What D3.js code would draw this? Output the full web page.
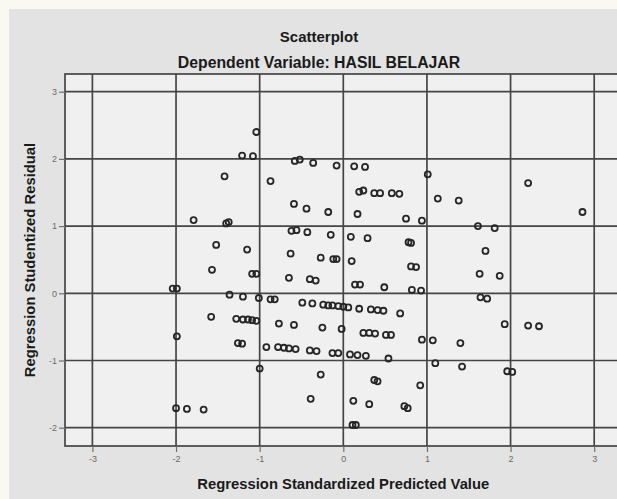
<!DOCTYPE html>
<html lang="id">
<head>
    <meta charset="UTF-8"/>
    <title>Scatterplot</title>
    <script src="https://cdnjs.cloudflare.com/ajax/libs/d3/7.8.5/d3.min.js"></script>
    <style>
        html, body { margin: 0; padding: 0; background: #f9f9f1; }
        svg { display: block; font-family: "Liberation Sans", Arial, sans-serif; }
        .title { font-weight: bold; font-size: 15px; fill: #1a1a1a; }
        .subtitle { font-weight: bold; font-size: 15.8px; fill: #1a1a1a; }
        .axis-title { font-weight: bold; font-size: 14.8px; fill: #1a1a1a; }
        .tick-label { font-size: 9px; fill: #6a6a6a; }
    </style>
</head>
<body>
<div id="chart"></div>

<script>
    // Data
    const predicted = [
        -1.04, -1.21, -1.08, -1.42, -0.87, -0.58, -0.52, -0.36, -0.08, 0.13,
        0.26, 0.19, 0.24, 0.37, 0.44, 0.58, 0.67, 1.01, 1.13, 2.21,
        1.38, -0.59, -0.44, -0.18, 0.17, 0.75, 0.94, 2.86, 1.61, 1.81,
        -1.79, -1.40, -1.37, -1.52, -1.15, -0.62, -0.56, -0.43, -0.15, 0.09,
        0.29, 0.78, 0.81, 1.70, -1.57, -0.63, -0.27, -0.12, -0.08, 0.10,
        0.81, 0.87, 1.63, 1.87, -1.09, -1.04, -0.65, -0.40, -0.33, 0.14,
        0.20, 0.49, 0.82, 0.93, -2.04, -1.99, -1.36, -1.20, -1.01, -0.87,
        -0.82, -0.49, -0.37, -0.24, -0.18, -0.13, -0.06, 0.00, 0.06, 0.19,
        0.33, 0.41, 0.48, 0.68, 1.64, 1.72, -1.58, -1.28, -1.20, -1.14,
        -1.09, -1.04, -0.77, -0.59, -0.25, -0.02, 1.93, 2.21, 2.34, 0.24,
        0.31, 0.38, 0.51, 0.57, 0.94, 1.07, 1.40, -1.99, -1.26, -1.21,
        -0.92, -0.78, -0.71, -0.65, -0.57, -0.40, -0.32, -0.13, -0.06, 0.08,
        0.17, 0.27, 0.54, 1.10, 1.42, -1.00, -0.27, 0.37, 0.41, 0.92,
        1.96, 2.02, -0.39, 0.12, 0.31, 0.73, 0.77, 0.11, 0.15, -2.00,
        -1.87, -1.67
    ];
    const residual = [
        2.40, 2.05, 2.04, 1.74, 1.67, 1.97, 1.99, 1.94, 1.90, 1.89,
        1.88, 1.51, 1.53, 1.49, 1.49, 1.49, 1.48, 1.77, 1.41, 1.64,
        1.38, 1.33, 1.26, 1.21, 1.18, 1.11, 1.08, 1.21, 1.00, 0.97,
        1.09, 1.04, 1.06, 0.72, 0.65, 0.93, 0.94, 0.91, 0.87, 0.84,
        0.82, 0.76, 0.75, 0.63, 0.35, 0.59, 0.53, 0.51, 0.51, 0.48,
        0.40, 0.39, 0.29, 0.26, 0.29, 0.29, 0.23, 0.21, 0.19, 0.13,
        0.13, 0.09, 0.05, 0.04, 0.07, 0.07, -0.02, -0.05, -0.07, -0.09,
        -0.09, -0.14, -0.15, -0.17, -0.18, -0.18, -0.19, -0.20, -0.21, -0.23,
        -0.24, -0.25, -0.26, -0.30, -0.06, -0.08, -0.35, -0.38, -0.39, -0.39,
        -0.40, -0.41, -0.45, -0.47, -0.51, -0.53, -0.46, -0.48, -0.49, -0.59,
        -0.59, -0.60, -0.62, -0.62, -0.69, -0.70, -0.74, -0.64, -0.74, -0.75,
        -0.80, -0.80, -0.81, -0.82, -0.83, -0.85, -0.86, -0.89, -0.89, -0.91,
        -0.92, -0.93, -0.97, -1.04, -1.09, -1.12, -1.21, -1.29, -1.31, -1.37,
        -1.16, -1.17, -1.57, -1.60, -1.65, -1.68, -1.71, -1.96, -1.96, -1.71,
        -1.72, -1.73
    ];
    const xTicks = [-3, -2, -1, 0, 1, 2, 3];
    const yTicks = [-2, -1, 0, 1, 2, 3];

    const title = "Scatterplot";
    const subtitle = "Dependent Variable: HASIL BELAJAR";
    const xTitle = "Regression Standardized Predicted Value";
    const yTitle = "Regression Studentized Residual";

    // Setup
    const width = 617;
    const height = 499;
    const plot = {left: 65, right: 625, top: 74, bottom: 446};

    const svg = d3
        .select("#chart")
        .append("svg")
        .attr("width", width)
        .attr("height", height);

    // Grey panel
    svg
        .append("rect")
        .attr("x", 9)
        .attr("y", 9)
        .attr("width", width)
        .attr("height", height)
        .attr("fill", "#e3e3e3");

    // Scales
    const xScale = d3
        .scaleLinear()
        .domain([-3, 3])
        .range([92.4, 594.2]);

    const yScale = d3
        .scaleLinear()
        .domain([-2, 3])
        .range([427.7, 91.7]);

    // Plot background
    svg
        .append("rect")
        .attr("x", plot.left)
        .attr("y", plot.top)
        .attr("width", plot.right - plot.left)
        .attr("height", plot.bottom - plot.top)
        .attr("fill", "#f0f0f0")
        .attr("stroke", "#454545")
        .attr("stroke-width", 1.7);

    // Grid lines
    const grid = svg.append("g").attr("stroke", "#454545").attr("stroke-width", 1.7);

    grid.selectAll(".vline")
        .data(xTicks)
        .enter()
        .append("line")
        .attr("x1", d => xScale(d))
        .attr("x2", d => xScale(d))
        .attr("y1", plot.top)
        .attr("y2", plot.bottom);

    grid.selectAll(".hline")
        .data(yTicks)
        .enter()
        .append("line")
        .attr("x1", plot.left)
        .attr("x2", plot.right)
        .attr("y1", d => yScale(d))
        .attr("y2", d => yScale(d));

    // Axes (plain hyphen for negatives, like SPSS)
    const fmt = d => String(d);

    const xAxis = svg
        .append("g")
        .attr("transform", `translate(0,${plot.bottom})`)
        .call(d3.axisBottom(xScale).tickValues(xTicks).tickFormat(fmt).tickSize(6).tickSizeOuter(0));

    const yAxis = svg
        .append("g")
        .attr("transform", `translate(${plot.left},0)`)
        .call(d3.axisLeft(yScale).tickValues(yTicks).tickFormat(fmt).tickSize(6).tickSizeOuter(0));

    [xAxis, yAxis].forEach(a => {
        a.select(".domain").remove();
        a.selectAll(".tick line").attr("stroke", "#707070").attr("stroke-width", 1.2);
        a.selectAll(".tick text")
            .attr("class", "tick-label")
            .attr("font-family", null)
            .attr("font-size", null)
            .attr("fill", null);
    });
    xAxis.selectAll(".tick text").attr("y", 10);
    yAxis.selectAll(".tick text").attr("x", -8);

    // Points
    const points = predicted.map((x, i) => ({x: x, y: residual[i]}));

    svg
        .append("g")
        .selectAll("circle")
        .data(points)
        .enter()
        .append("circle")
        .attr("cx", d => xScale(d.x))
        .attr("cy", d => yScale(d.y))
        .attr("r", 3.0)
        .attr("fill", "none")
        .attr("stroke", "#262626")
        .attr("stroke-width", 1.8);

    // Titles
    svg
        .append("text")
        .attr("class", "title")
        .attr("x", 319)
        .attr("y", 42)
        .attr("text-anchor", "middle")
        .text(title);

    svg
        .append("text")
        .attr("class", "subtitle")
        .attr("x", 319)
        .attr("y", 68)
        .attr("text-anchor", "middle")
        .text(subtitle);

    svg
        .append("text")
        .attr("class", "axis-title")
        .attr("x", xScale(0))
        .attr("y", 489)
        .attr("text-anchor", "middle")
        .text(xTitle);

    svg
        .append("text")
        .attr("class", "axis-title")
        .attr("transform", `translate(35,${(plot.top + plot.bottom) / 2}) rotate(-90)`)
        .attr("text-anchor", "middle")
        .text(yTitle);
</script>
</body>
</html>
